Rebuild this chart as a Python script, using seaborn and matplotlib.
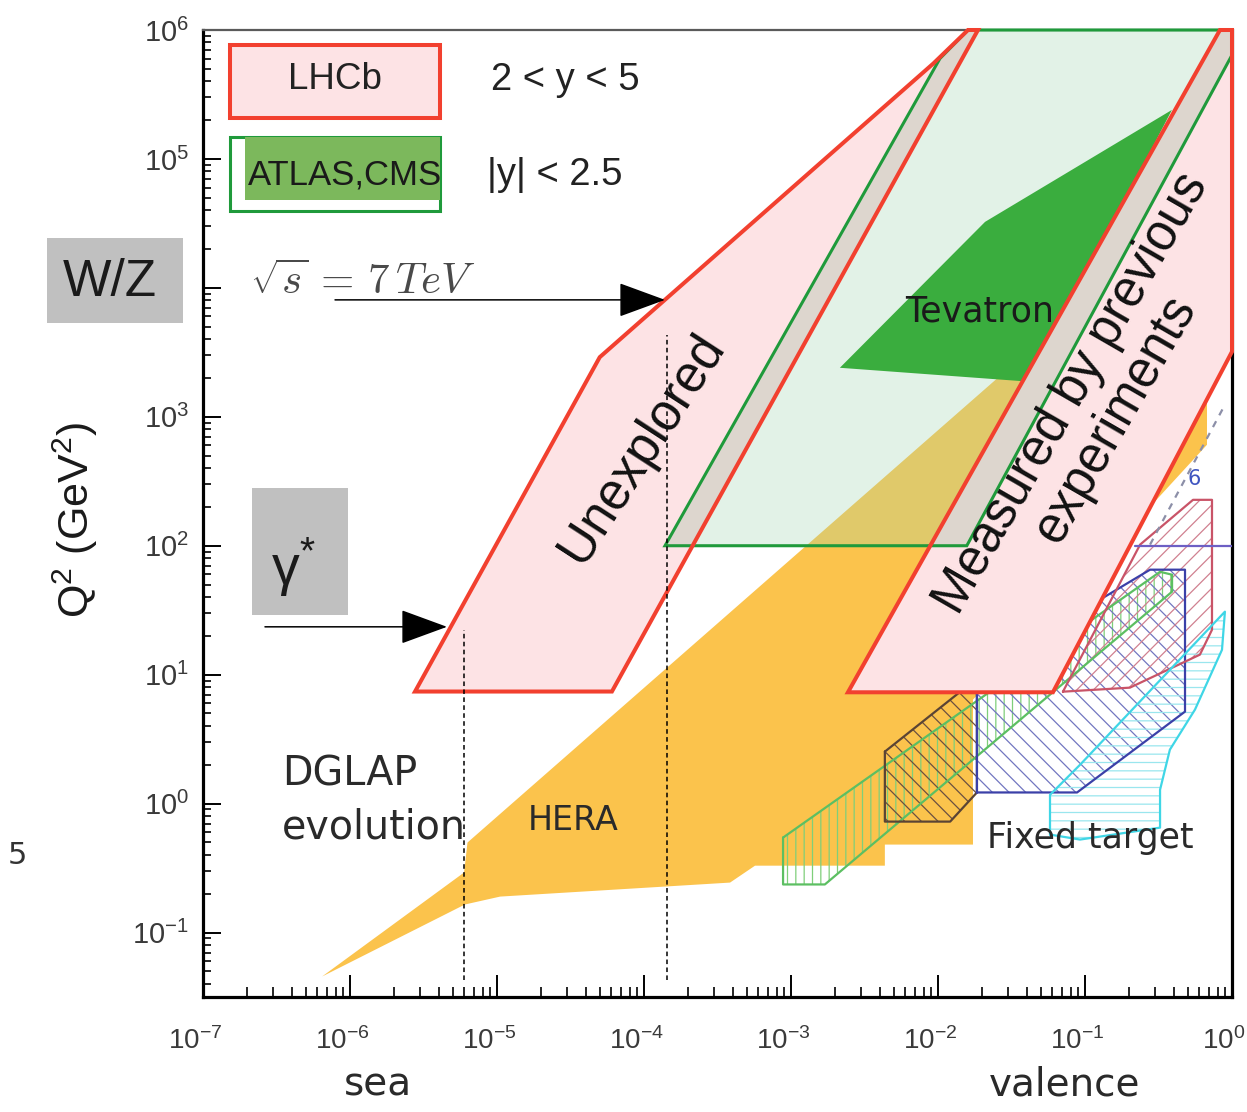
import numpy as np
import matplotlib
matplotlib.use("Agg")
import matplotlib.pyplot as plt
import matplotlib.transforms as mtransforms
from matplotlib.patches import Rectangle
from matplotlib.ticker import LogLocator, NullFormatter
import seaborn as sns

# ---------------- data: x (momentum fraction) and Q^2 (GeV^2) ----------------
lhcb_low_x = [2.77e-6, 5.0e-5, 9.3e-3, 1.6e-2, 1.87e-2, 6.05e-5]
lhcb_low_q2 = [7.4, 2900, 5.5e5, 1e6, 1e6, 7.4]

lhcb_high_x = [2.44e-3, 6.05e-2, 1.0, 1.0, 0.828]
lhcb_high_q2 = [7.3, 7.3, 3200, 1e6, 1e6]

atlas_x = [1.39e-4, 1.03e-2, 1.6e-2, 1.0, 1.0, 1.57e-2]
atlas_q2 = [100, 6.0e5, 1e6, 1e6, 6.4e5, 100]

overlap_low_x = [1.39e-4, 1.03e-2, 1.6e-2, 1.87e-2, 2.09e-4]
overlap_low_q2 = [100, 6.0e5, 1e6, 1e6, 100]

overlap_high_x = [8.8e-3, 0.828, 1.0, 1.0, 1.57e-2]
overlap_high_q2 = [100, 1e6, 1e6, 6.4e5, 100]

tevatron_x = [2.15e-3, 2.09e-2, 0.39, 0.126, 4.23e-2]
tevatron_q2 = [2400, 3.25e4, 2.4e5, 2.0e4, 1870]

hera_x = [6.46e-7, 5.97e-6, 6.3e-6, 4.94e-2, 0.605, 0.676, 0.676, 1.73e-2, 1.73e-2,
          4.35e-3, 4.35e-3, 5.69e-4, 3.85e-4, 1.05e-5, 6.05e-6]
hera_q2 = [0.0456, 0.292, 0.499, 3880, 4.8e4, 1480, 607, 6.4, 0.481,
           0.481, 0.330, 0.330, 0.244, 0.190, 0.165]

ft_green_x = [8.83e-4, 8.83e-4, 1.70e-3, 0.391, 0.391, 0.324]
ft_green_q2 = [0.545, 0.236, 0.236, 44.0, 59.6, 62.8]

ft_brown_x = [4.35e-3, 4.35e-3, 1.21e-2, 1.84e-2, 1.84e-2, 1.80e-2]
ft_brown_q2 = [2.53, 0.725, 0.725, 1.22, 9.15, 9.15]

ft_navy_x = [1.84e-2, 8.83e-2, 0.479, 0.479, 0.277, 0.126, 1.84e-2]
ft_navy_q2 = [1.22, 1.22, 5.17, 65.2, 65.2, 38.1, 9.15]

ft_red_x = [7.08e-2, 0.202, 0.605, 0.731, 0.731, 0.543, 0.237]
ft_red_q2 = [7.38, 7.93, 14.3, 22.3, 227, 227, 102]

ft_cyan_x = [5.78e-2, 5.78e-2, 9.25e-2, 0.895, 0.855, 0.560, 0.378, 0.324, 0.324, 9.25e-2]
ft_cyan_q2 = [0.575, 1.17, 2.0, 30.8, 15.6, 5.36, 2.62, 1.28, 0.651, 0.526]

purple_x = [0.219, 1.0]
purple_q2 = [100, 100]

gray_dash_x = [0.277, 0.895]
gray_dash_q2 = [102, 1240]
label6_x, label6_q2 = 0.55, 330

vline_x = [5.97e-6, 1.43e-4]
vline_top_q2 = [22.3, 4320]
vline_bottom_q2 = 0.0432

arrow_wz_x = [7.91e-7, 1.39e-4]
arrow_wz_q2 = 8070
arrow_gamma_x = [2.64e-7, 4.57e-6]
arrow_gamma_q2 = 23.5

x_tick_exp = [-7, -6, -5, -4, -3, -2, -1, 0]
y_tick_exp = [-1, 0, 1, 2, 3, 4, 5, 6]
y_tick_hidden = [4]  # covered by the W/Z box in the original

# ---------------- style ----------------
sns.set_theme(style="white")
plt.rcParams["font.family"] = ["Liberation Sans", "DejaVu Sans"]
plt.rcParams["mathtext.fontset"] = "custom"
plt.rcParams["mathtext.rm"] = "Liberation Sans"
plt.rcParams["mathtext.it"] = "Liberation Sans:italic"
plt.rcParams["mathtext.bf"] = "Liberation Sans:bold"
plt.rcParams["hatch.linewidth"] = 0.9

PINK = "#fde3e5"
RED = "#f2402f"
GREEN_EDGE = "#1f9a3b"
BEIGE = "#ddd6ce"
TEV = "#3aad3e"
HERA = "#fbc34c"

fig = plt.figure(figsize=(12.47, 11.12), dpi=100)
ax = fig.add_axes([0.16279, 0.10342, 0.82518, 0.86960])
ax.set_xscale("log")
ax.set_yscale("log")
ax.set_xlim(1e-7, 1.0)
ax.set_ylim(10 ** -1.5, 1e6)

# HERA
ax.fill(hera_x, hera_q2, facecolor=HERA, edgecolor="none", zorder=3)

# fixed target regions (hatched)
ft = [
    (ft_green_x, ft_green_q2, "#5cbf62", "#7fcf7a", "||"),
    (ft_brown_x, ft_brown_q2, "#5b4434", "#6b5040", "\\\\"),
    (ft_navy_x, ft_navy_q2, "#3b40a8", "#7276c0", "\\\\"),
    (ft_red_x, ft_red_q2, "#c95468", "#d08090", "//"),
    (ft_cyan_x, ft_cyan_q2, "#3fd6e6", "#9ae6ee", "--"),
]
for fx, fq, ec, hc, h in ft:
    ax.fill(fx, fq, facecolor="none", edgecolor=hc, hatch=h, lw=0, zorder=3.5)
    sns.lineplot(x=fx + fx[:1], y=fq + fq[:1], ax=ax, color=ec, lw=1.6,
                 sort=False, estimator=None, zorder=3.6)

sns.lineplot(x=purple_x, y=purple_q2, ax=ax, color="#6d5fc4", lw=1.6,
             sort=False, estimator=None, zorder=3.6)
ax.plot(gray_dash_x, gray_dash_q2, color="#8c8fa8", lw=1.6, ls=(0, (3, 3)), zorder=3.6)
ax.text(label6_x, label6_q2, "6", color="#3f55c0", fontsize=15, ha="center",
        va="center", zorder=3.7, family="DejaVu Sans")

# ATLAS/CMS region
ax.fill(atlas_x, atlas_q2, facecolor=(162 / 255, 215 / 255, 178 / 255), alpha=0.3,
        edgecolor="none", zorder=4)
# Tevatron
ax.fill(tevatron_x, tevatron_q2, facecolor=TEV, edgecolor="none", zorder=4.5)
# LHCb
ax.fill(lhcb_low_x, lhcb_low_q2, facecolor=PINK, edgecolor="none", zorder=5, clip_on=False)
ax.fill(lhcb_high_x, lhcb_high_q2, facecolor=PINK, edgecolor="none", zorder=5, clip_on=False)
# overlap strips
ax.fill(overlap_low_x, overlap_low_q2, facecolor=BEIGE, edgecolor="none", zorder=5.5)
ax.fill(overlap_high_x, overlap_high_q2, facecolor=BEIGE, edgecolor="none", zorder=5.5)
# outlines
ax.fill(atlas_x, atlas_q2, facecolor="none", edgecolor=GREEN_EDGE, lw=2.2,
        zorder=6, clip_on=False, joinstyle="miter")
ax.fill(lhcb_low_x, lhcb_low_q2, facecolor="none", edgecolor=RED, lw=2.9,
        zorder=6.1, clip_on=False, joinstyle="miter")
ax.fill(lhcb_high_x, lhcb_high_q2, facecolor="none", edgecolor=RED, lw=2.9,
        zorder=6.1, clip_on=False, joinstyle="miter")

# dashed verticals
for vx, vt in zip(vline_x, vline_top_q2):
    sns.lineplot(x=[vx, vx * 1.0000001], y=[vline_bottom_q2, vt], ax=ax, color="black",
                 lw=1.1, sort=False, estimator=None, zorder=6.5)
    ax.lines[-1].set_linestyle((0, (3, 2.2)))

# arrows
for axs, aq in ((arrow_wz_x, arrow_wz_q2), (arrow_gamma_x, arrow_gamma_q2)):
    ax.annotate("", xy=(axs[1], aq), xytext=(axs[0], aq),
                arrowprops=dict(arrowstyle="-|>,head_length=0.6,head_width=0.22",
                                mutation_scale=50, color="black", lw=1.1,
                                shrinkA=0, shrinkB=0),
                zorder=7, annotation_clip=False)

# ---------------- axes styling ----------------
ax.set_xticks([10.0 ** k for k in x_tick_exp], [r"$10^{%d}$" % k for k in x_tick_exp])
ax.set_yticks([10.0 ** k for k in y_tick_exp],
              ["" if k in y_tick_hidden else r"$10^{%d}$" % k for k in y_tick_exp])
ax.xaxis.set_minor_locator(LogLocator(base=10, subs=np.arange(2, 10), numticks=30))
ax.yaxis.set_minor_locator(LogLocator(base=10, subs=np.arange(2, 10), numticks=30))
ax.xaxis.set_minor_formatter(NullFormatter())
ax.yaxis.set_minor_formatter(NullFormatter())
ax.tick_params(axis="x", which="major", direction="in", length=16, width=1.4, pad=22,
               labelsize=20, labelcolor="#3a3a3a", color="black", bottom=True, top=False)
ax.tick_params(axis="x", which="minor", direction="in", length=7, width=1.2,
               color="black", bottom=True, top=False)
ax.tick_params(axis="y", which="major", direction="in", length=13, width=1.4, pad=10,
               labelsize=21, labelcolor="#3a3a3a", color="black", left=True, right=False)
ax.tick_params(axis="y", which="minor", direction="in", length=6, width=1.2,
               color="black", left=True, right=False)
offset = mtransforms.ScaledTranslation(-8 / 100, 0, fig.dpi_scale_trans)
for lab in ax.get_xticklabels():
    lab.set_transform(lab.get_transform() + offset)

for s in ["left", "bottom", "right"]:
    ax.spines[s].set_color("black")
    ax.spines[s].set_linewidth(2.3)
ax.spines["top"].set_color("#5a5a5a")
ax.spines["top"].set_linewidth(1.6)
ax.set_facecolor("white")
ax.set_xlabel("")
ax.set_ylabel("")

# ---------------- legend boxes ----------------
ax.add_patch(Rectangle((0.0262, 0.9090), 0.2041, 0.0755, transform=ax.transAxes,
                       facecolor=PINK, edgecolor=RED, lw=2.9, zorder=8))
ax.add_patch(Rectangle((0.0262, 0.8128), 0.2041, 0.0765, transform=ax.transAxes,
                       facecolor="white", edgecolor=GREEN_EDGE, lw=2.2, zorder=8))
ax.add_patch(Rectangle((0.0408, 0.8242), 0.1895, 0.0651, transform=ax.transAxes,
                       facecolor="#7cb85c", edgecolor="none", zorder=8.1))
ax.text(0.1283, 0.9483, "LHCb", transform=ax.transAxes, fontsize=26.5, ha="center",
        va="center", color="#222222", zorder=9)
ax.text(0.3518, 0.9483, "2 < y < 5", transform=ax.transAxes, fontsize=27.5, ha="center",
        va="center", color="#222222", zorder=9)
ax.text(0.1380, 0.8500, "ATLAS,CMS", transform=ax.transAxes, fontsize=25, ha="center",
        va="center", color="#1a1a1a", zorder=9)
ax.text(0.3421, 0.8500, "|y| < 2.5", transform=ax.transAxes, fontsize=27.5, ha="center",
        va="center", color="#222222", zorder=9)
ax.text(0.1555, 0.7384, r"$\sqrt{s}\,=\,7\,TeV$", transform=ax.transAxes, fontsize=31,
        ha="center", va="center", color="#4a4a4a", math_fontfamily="cm", zorder=9)

# region labels
ax.text(0.0768, 0.2296, "DGLAP", transform=ax.transAxes, fontsize=28.5, ha="left",
        va="center", color="#2a2a2a", family="DejaVu Sans", zorder=9)
ax.text(0.0768, 0.1748, "evolution", transform=ax.transAxes, fontsize=28.5, ha="left",
        va="center", color="#2a2a2a", family="DejaVu Sans", zorder=9)
ax.text(0.3596, 0.1830, "HERA", transform=ax.transAxes, fontsize=24, ha="center",
        va="center", color="#2a2a2a", family="DejaVu Sans", zorder=9)
ax.text(0.8620, 0.1644, "Fixed target", transform=ax.transAxes, fontsize=25, ha="center",
        va="center", color="#2a2a2a", family="DejaVu Sans", zorder=9)
ax.text(0.7551, 0.7084, "Tevatron", transform=ax.transAxes, fontsize=25, ha="center",
        va="center", color="#1a1a1a", family="DejaVu Sans", zorder=9)
ax.text(0.4266, 0.5677, "Unexplored", transform=ax.transAxes, fontsize=37, ha="center",
        va="center", rotation=57, rotation_mode="anchor", color="#111111", zorder=9)
ax.text(0.8659, 0.6112, "Measured by previous\nexperiments", transform=ax.transAxes,
        fontsize=36.5, ha="center", va="center", rotation=60, rotation_mode="anchor",
        linespacing=1.05, multialignment="center", color="#111111", zorder=9)

# ---------------- figure-level labels ----------------
fig.add_artist(Rectangle((0.0377, 0.7095), 0.1091, 0.0764, transform=fig.transFigure,
                         facecolor="#c0c0c0", edgecolor="none", zorder=5))
fig.text(0.0882, 0.7464, "W/Z", fontsize=37, ha="center", va="center", color="#1a1a1a",
         zorder=6)
fig.add_artist(Rectangle((0.2021, 0.4469), 0.0770, 0.1142, transform=fig.transFigure,
                         facecolor="#c0c0c0", edgecolor="none", zorder=5))
fig.text(0.2350, 0.4900, r"γ$^{*}$", fontsize=40, ha="center", va="center",
         color="#1a1a1a", zorder=6)
fig.text(0.0601, 0.5324, r"Q$^{2}$ (GeV$^{2}$)", fontsize=31, rotation=90, ha="center",
         va="center", color="#1a1a1a")
fig.text(0.3031, 0.0243, "sea", fontsize=28, ha="center", va="center",
         color="#2a2a2a", family="DejaVu Sans")
fig.text(0.8540, 0.0243, "valence", fontsize=28, ha="center", va="center",
         color="#2a2a2a", family="DejaVu Sans")
fig.text(0.014, 0.2311, "5", fontsize=22, ha="center", va="center", color="#333333",
         family="DejaVu Sans")

fig.savefig("out.png", dpi=100, facecolor="white")
